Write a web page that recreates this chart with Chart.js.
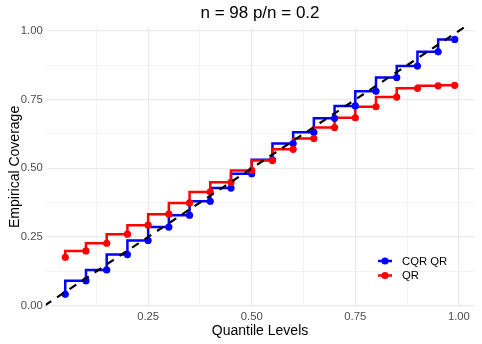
<!DOCTYPE html>
<html>
<head>
<meta charset="utf-8">
<script src="https://cdn.jsdelivr.net/npm/chart.js@4/dist/chart.umd.min.js"></script>
<style>
  html, body { margin: 0; padding: 0; background: #fff; }
</style>
</head>
<body>
<canvas id="coverageChart" width="482" height="344"></canvas>
<script>
// data
const quantileLevels = [0.05, 0.10, 0.15, 0.20, 0.25, 0.30, 0.35, 0.40, 0.45, 0.50,
                        0.55, 0.60, 0.65, 0.70, 0.75, 0.80, 0.85, 0.90, 0.95, 0.99];
const cqrCoverage = [0.041, 0.091, 0.130, 0.186, 0.237, 0.286, 0.329, 0.380, 0.428, 0.480,
                     0.531, 0.590, 0.631, 0.682, 0.727, 0.780, 0.830, 0.872, 0.924, 0.969];
const qrCoverage = [0.176, 0.199, 0.227, 0.260, 0.293, 0.333, 0.374, 0.414, 0.449, 0.492,
                    0.528, 0.569, 0.608, 0.648, 0.684, 0.724, 0.759, 0.791, 0.800, 0.802];
const seriesNames = ["CQR QR", "QR"];
const seriesColors = ["#0000FF", "#FF0000"];
const identityEnds = [0, 1.05];

const xTickValues = [0.125, 0.25, 0.375, 0.5, 0.625, 0.75, 0.875, 1.0];
const xMajorTicks = [0.25, 0.5, 0.75, 1.0];
const xTickLabels = ["0.25", "0.50", "0.75", "1.00"];
const yTickValues = [0, 0.125, 0.25, 0.375, 0.5, 0.625, 0.75, 0.875, 1.0];
const yMajorTicks = [0, 0.25, 0.5, 0.75, 1.0];
const yTickLabels = ["0.00", "0.25", "0.50", "0.75", "1.00"];

const FONT = "'Liberation Sans', Arial, sans-serif";

const toPoints = (xs, ys) => xs.map((x, i) => ({ x: x, y: ys[i] }));
const majorLabel = (majors, labels) => (v) => {
  const i = majors.findIndex(m => Math.abs(m - v) < 1e-9);
  return i >= 0 ? labels[i] : "";
};
const isMajor = (majors, v) => majors.some(m => Math.abs(m - v) < 1e-9);

// ggplot-style legend inside the panel
const insideLegend = {
  id: "insideLegend",
  afterDraw(chart) {
    const ctx = chart.ctx;
    const keyX = 385, firstY = 261, step = 14.5;
    ctx.save();
    seriesNames.forEach((name, i) => {
      const y = firstY + i * step;
      ctx.strokeStyle = seriesColors[i];
      ctx.fillStyle = seriesColors[i];
      ctx.lineWidth = 2.5;
      ctx.beginPath();
      ctx.moveTo(keyX - 7, y);
      ctx.lineTo(keyX + 7, y);
      ctx.stroke();
      ctx.beginPath();
      ctx.arc(keyX, y, 3.6, 0, Math.PI * 2);
      ctx.fill();
      ctx.fillStyle = "#000";
      ctx.font = "11.3px " + FONT;
      ctx.textBaseline = "middle";
      ctx.fillText(name, keyX + 17, y + 0.5);
    });
    ctx.restore();
  }
};

const ctx = document.getElementById("coverageChart").getContext("2d");
new Chart(ctx, {
  type: "line",
  data: {
    datasets: [
      {
        data: toPoints(identityEnds, identityEnds),
        borderColor: "#000",
        borderWidth: 2.2,
        borderDash: [8, 7],
        pointRadius: 0,
        order: 0
      },
      {
        data: toPoints(quantileLevels, qrCoverage),
        showLine: false,
        pointRadius: 3.6,
        pointBorderWidth: 0,
        pointBackgroundColor: seriesColors[1],
        order: 1
      },
      {
        data: toPoints(quantileLevels, cqrCoverage),
        showLine: false,
        pointRadius: 3.6,
        pointBorderWidth: 0,
        pointBackgroundColor: seriesColors[0],
        order: 2
      },
      {
        data: toPoints(quantileLevels, qrCoverage),
        borderColor: seriesColors[1],
        borderWidth: 2.5,
        stepped: "after",
        pointRadius: 0,
        order: 3
      },
      {
        data: toPoints(quantileLevels, cqrCoverage),
        borderColor: seriesColors[0],
        borderWidth: 2.5,
        stepped: "after",
        pointRadius: 0,
        order: 4
      }
    ]
  },
  options: {
    responsive: false,
    animation: false,
    layout: { padding: { right: 7.8 } },
    plugins: {
      legend: { display: false },
      tooltip: { enabled: false },
      title: {
        display: true,
        fullSize: false,
        text: "n = 98 p/n = 0.2",
        color: "#000",
        font: { family: FONT, size: 17, weight: "normal" },
        padding: { top: 3.5, bottom: 2.9 }
      }
    },
    scales: {
      x: {
        type: "linear",
        min: 0.003,
        max: 1.037,
        afterBuildTicks: s => { s.ticks = xTickValues.map(v => ({ value: v })); },
        afterFit: s => { s.height = 37; },
        border: { display: false },
        grid: {
          drawTicks: false,
          color: "#EBEBEB",
          lineWidth: c => isMajor(xMajorTicks, c.tick.value) ? 1.2 : 0.6
        },
        ticks: {
          autoSkip: false,
          maxRotation: 0,
          padding: 3,
          color: "#4D4D4D",
          font: { family: FONT, size: 11.3 },
          callback: majorLabel(xMajorTicks, xTickLabels)
        },
        title: {
          display: true,
          text: "Quantile Levels",
          color: "#000",
          font: { family: FONT, size: 14 },
          padding: { top: 0, bottom: 4.2 }
        }
      },
      y: {
        type: "linear",
        min: -0.005,
        max: 1.015,
        afterBuildTicks: s => { s.ticks = yTickValues.map(v => ({ value: v })); },
        afterFit: s => { s.width = 45.8; },
        border: { display: false },
        grid: {
          drawTicks: false,
          color: "#EBEBEB",
          lineWidth: c => isMajor(yMajorTicks, c.tick.value) ? 1.2 : 0.6
        },
        ticks: {
          autoSkip: false,
          padding: 3,
          color: "#4D4D4D",
          font: { family: FONT, size: 11.3 },
          callback: majorLabel(yMajorTicks, yTickLabels)
        },
        title: {
          display: true,
          text: "Empirical Coverage",
          color: "#000",
          font: { family: FONT, size: 14 },
          padding: { top: 6.6, bottom: 0 }
        }
      }
    }
  },
  plugins: [insideLegend]
});
</script>
</body>
</html>
